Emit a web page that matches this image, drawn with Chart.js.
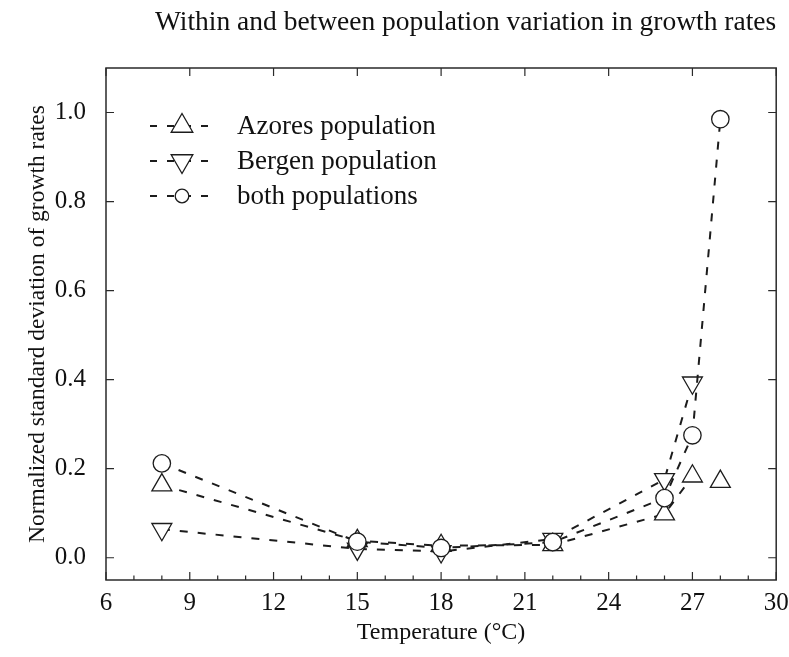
<!DOCTYPE html>
<html><head><meta charset="utf-8">
<script src="https://cdn.jsdelivr.net/npm/chart.js@4.4.1/dist/chart.umd.min.js"></script>
<style>html,body{margin:0;padding:0;background:#fff}#wrap{width:789px;height:657px;position:relative}</style>
</head><body><div id="wrap"><canvas id="c"></canvas></div>
<script>
const temperatures = [8, 15, 18, 22, 26, 27, 28];
const azores = [0.163, 0.038, 0.027, 0.029, 0.098, 0.183, 0.171];
const bergen = [0.064, 0.020, 0.014, 0.042, 0.176, 0.393, null];
const both   = [0.212, 0.036, 0.022, 0.035, 0.134, 0.275, 0.985];
const azoresLinkedToPrevious = [false, true, true, true, true, true, false];
const seriesNames = ['Azores population', 'Bergen population', 'both populations'];
const xTicks = [6, 9, 12, 15, 18, 21, 24, 27, 30];
const yTicks = [0.0, 0.2, 0.4, 0.6, 0.8, 1.0];
const titleText = 'Within and between population variation in growth rates';
const xTitle = 'Temperature (\u00B0C)';
const yTitle = 'Normalized standard deviation of growth rates';

const ink = '#1c1c1c';
const serif = "'Liberation Serif', 'Times New Roman', serif";

function makeDataset(label, values, pointStyle, rotation, radius, order, extra) {
  return Object.assign({
    label,
    data: temperatures.map((t, i) => ({x: t, y: values[i]})),
    borderColor: ink,
    borderWidth: 2,
    borderDash: [8, 10],
    pointStyle,
    rotation,
    pointRadius: radius,
    pointHoverRadius: radius,
    pointBorderWidth: 1.3,
    pointBorderColor: ink,
    pointBackgroundColor: '#ffffff',
    backgroundColor: '#ffffff',
    fill: false,
    tension: 0,
    spanGaps: false,
    clip: false,
    order
  }, extra || {});
}

const datasets = [
  makeDataset(seriesNames[0], azores, 'triangle', 0, 11.5, 3, {
    segment: { borderColor: ctx => azoresLinkedToPrevious[ctx.p1DataIndex] ? undefined : 'rgba(0,0,0,0)' }
  }),
  makeDataset(seriesNames[1], bergen, 'triangle', 180, 11.5, 2),
  makeDataset(seriesNames[2], both, 'circle', 0, 8.7, 1)
];

function drawMarker(ctx, style, rotation, x, y, r) {
  ctx.beginPath();
  if (style === 'circle') {
    ctx.arc(x, y, r, 0, Math.PI * 2);
  } else {
    let rad = rotation * Math.PI / 180;
    ctx.moveTo(x + Math.sin(rad) * r, y - Math.cos(rad) * r);
    rad += 2 * Math.PI / 3;
    ctx.lineTo(x + Math.sin(rad) * r, y - Math.cos(rad) * r);
    rad += 2 * Math.PI / 3;
    ctx.lineTo(x + Math.sin(rad) * r, y - Math.cos(rad) * r);
    ctx.closePath();
  }
  ctx.fillStyle = '#fff';
  ctx.fill();
  ctx.lineWidth = 1.3;
  ctx.strokeStyle = ink;
  ctx.stroke();
}

const framePlugin = {
  id: 'frame',
  beforeDatasetsDraw(chart) {
    const {ctx, chartArea: a, scales: {x, y}} = chart;
    ctx.save();
    ctx.strokeStyle = '#2a2a2a';
    ctx.lineWidth = 1.5;
    ctx.strokeRect(a.left, a.top, a.right - a.left, a.bottom - a.top);
    ctx.lineWidth = 1.2;
    ctx.beginPath();
    for (let v = xTicks[0]; v <= xTicks[xTicks.length - 1]; v += 1) {
      const px = x.getPixelForValue(v);
      const major = xTicks.includes(v);
      ctx.moveTo(px, a.bottom);
      ctx.lineTo(px, a.bottom - (major ? 8 : 4.5));
      if (major) { ctx.moveTo(px, a.top); ctx.lineTo(px, a.top + 8); }
    }
    yTicks.forEach(v => {
      const py = y.getPixelForValue(v);
      ctx.moveTo(a.left, py); ctx.lineTo(a.left + 8, py);
      ctx.moveTo(a.right, py); ctx.lineTo(a.right - 8, py);
    });
    ctx.stroke();
    ctx.restore();
  },
  afterDraw(chart) {
    const {ctx} = chart;
    const rows = [126, 161, 196];
    const legendRadius = [12.5, 12.5, 6.8];
    ctx.save();
    chart.data.datasets.forEach((d, i) => {
      const yy = rows[i];
      ctx.strokeStyle = ink;
      ctx.lineWidth = 2;
      ctx.setLineDash([7, 10]);
      ctx.beginPath();
      ctx.moveTo(150, yy); ctx.lineTo(214, yy);
      ctx.stroke();
      ctx.setLineDash([]);
      drawMarker(ctx, d.pointStyle, d.rotation, 182, yy, legendRadius[i]);
      ctx.fillStyle = '#111';
      ctx.font = '27px ' + serif;
      ctx.textAlign = 'left';
      ctx.textBaseline = 'middle';
      ctx.fillText(d.label, 237, yy + 1);
    });
    ctx.restore();
  }
};

new Chart(document.getElementById('c'), {
  type: 'line',
  data: { datasets },
  plugins: [framePlugin],
  options: {
    responsive: true,
    maintainAspectRatio: false,
    animation: false,
    events: [],
    layout: { padding: { left: 0, right: 12, top: 0, bottom: 0 } },
    plugins: {
      legend: { display: false },
      tooltip: { enabled: false },
      title: {
        display: true,
        fullSize: false,
        text: titleText,
        align: 'end',
        color: '#111',
        font: { family: serif, size: 27.5, weight: 'normal', lineHeight: 1.2 },
        padding: { top: 6, bottom: 29 }
      }
    },
    scales: {
      x: {
        type: 'linear',
        min: 6, max: 30,
        afterBuildTicks: s => { s.ticks = xTicks.map(v => ({value: v})); },
        afterFit: s => { s.height = 77; s.paddingRight = 0; s.paddingLeft = 0; },
        grid: { display: false, drawTicks: false },
        border: { display: false },
        ticks: { color: '#111', font: { family: serif, size: 25 }, padding: 8, maxRotation: 0, autoSkip: false },
        title: { display: true, text: xTitle, color: '#111', font: { family: serif, size: 24 }, padding: { top: 0, bottom: 10 } }
      },
      y: {
        type: 'linear',
        min: -0.05, max: 1.1,
        afterBuildTicks: s => { s.ticks = yTicks.map(v => ({value: v})); },
        afterFit: s => { s.width = 106; s.paddingTop = 0; s.paddingBottom = 0; },
        grid: { display: false, drawTicks: false },
        border: { display: false },
        ticks: { color: '#111', font: { family: serif, size: 25 }, padding: 20, callback: v => Number(v).toFixed(1), autoSkip: false },
        title: { display: true, text: yTitle, color: '#111', font: { family: serif, size: 23.5 }, padding: { top: 23.6, bottom: 0 } }
      }
    }
  }
});
</script>
</body></html>
